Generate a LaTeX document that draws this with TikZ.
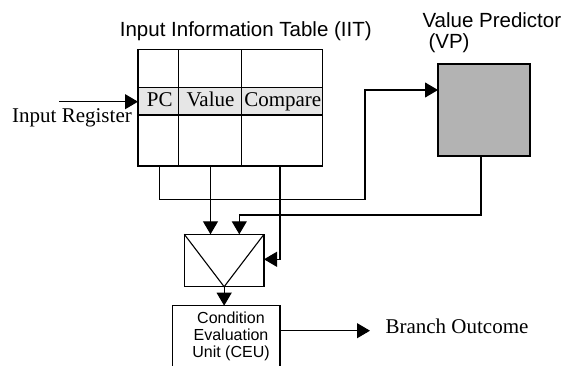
\documentclass[tikz,border=0pt]{standalone}
\usepackage{fontspec}
\setmainfont{Liberation Serif}
\newfontfamily\arialf{Liberation Sans}
\usetikzlibrary{arrows.meta}
\definecolor{rowgray}{HTML}{E6E6E6}
\definecolor{vpgray}{HTML}{B3B3B3}
\begin{document}
\begin{tikzpicture}[x=1pt,y=-1pt,
  line width=1.1pt,
  arr/.style={-{Triangle[length=13pt,width=15pt]}},
  box/.style={draw=black, inner sep=0pt, outer sep=0pt, anchor=north west},
  serif/.style={font=\fontsize{21}{24}\selectfont, inner sep=0pt, anchor=base},
  sans/.style={font=\arialf\fontsize{20.5}{23}\selectfont, inner sep=0pt, anchor=base west},
  small/.style={font=\arialf\fontsize{16}{17}\selectfont, inner sep=0pt, anchor=base},
  ]
\useasboundingbox (0,0) rectangle (571,366);
\clip (0,0) rectangle (571,366);
% titles
\node[sans, anchor=base] (title) at (245.8,36.7) {Input Information Table (IIT)};
\node[sans] (vpt) at (422,27.3) {Value Predictor};
\node[sans] (vpt2) at (428,48.5) {(VP)};
% table
\node[box, fill=rowgray, draw=none, minimum width=184.5pt, minimum height=27.7pt] (row) at (138,87.3) {};
\draw (138,87.3) -- (322.5,87.3) (138,115) -- (322.5,115);
\draw (178.3,49.5) -- (178.3,166) (241.7,49.5) -- (241.7,166);
\node[box, minimum width=184.5pt, minimum height=116.5pt] (iit) at (138,49.5) {};
\node[serif] (pc) at (159.7,106.7) {PC};
\node[serif] (val) at (210.5,106.7) {Value};
\node[serif] (cmp) at (282.8,106.7) {Compare};
% input register
\node[serif, anchor=base west] (inreg) at (11.7,123) {Input Register};
\coordinate (instart) at (59,101.7);
\coordinate (inend) at (138,101.7);
\draw[arr] (instart) -- (inend);
% value predictor
\node[box, fill=vpgray, minimum width=92pt, minimum height=92pt] (vp) at (438,64) {};
% mux
\node[box, minimum width=79.7pt, minimum height=52.4pt] (mux) at (184.3,234.3) {};
\draw (mux.north west) -- (mux.south) -- (mux.north east);
% CEU
\node[box, minimum width=107.3pt, minimum height=90pt] (ceu) at (172.7,305.7) {};
\node[small] (ceu1) at (231,324) {Condition};
\node[small] (ceu2) at (231,340.7) {Evaluation};
\node[small] (ceu3) at (231,357.4) {Unit (CEU)};
\node[serif, anchor=base west] (bo) at (385,334) {Branch Outcome};
% connectors
\coordinate (j1) at (365,199.3);
\coordinate (vpin) at (438,90);
\draw[arr] (pc |- iit.south) |- (j1) |- (vpin);
\draw[arr] (val |- iit.south) -- (val |- mux.north);
\coordinate (cmptap) at (280,166);
\coordinate (muxin) at (264,259.3);
\draw[arr] (cmptap) |- (muxin);
\coordinate (vpout) at (481,156);
\coordinate (j3) at (239.3,215);
\draw[arr] (vpout) |- (j3) -- (j3 |- mux.north);
\draw[arr] (mux.south) -- (mux.south |- ceu.north);
\coordinate (ceuout) at (280,330.7);
\coordinate (boend) at (370,330.7);
\draw[arr] (ceuout) -- (boend);
\end{tikzpicture}
\end{document}
